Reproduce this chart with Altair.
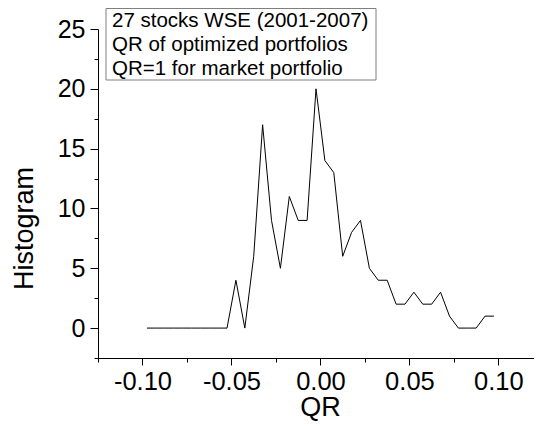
import altair as alt
import pandas as pd

# Histogram of QR values (bin centres) and counts
qr_bins = [-0.0975, -0.0925, -0.0875, -0.0825, -0.0775, -0.0725, -0.0675, -0.0625,
           -0.0575, -0.0525, -0.0475, -0.0425, -0.0375, -0.0325, -0.0275, -0.0225,
           -0.0175, -0.0125, -0.0075, -0.0025, 0.0025, 0.0075, 0.0125, 0.0175,
           0.0225, 0.0275, 0.0325, 0.0375, 0.0425, 0.0475, 0.0525, 0.0575,
           0.0625, 0.0675, 0.0725, 0.0775, 0.0825, 0.0875, 0.0925, 0.0975]
counts = [0, 0, 0, 0, 0, 0, 0, 0,
          0, 0, 4, 0, 6, 17, 9, 5,
          11, 9, 9, 20, 14, 13, 6, 8,
          9, 5, 4, 4, 2, 2, 3, 2,
          2, 3, 1, 0, 0, 0, 1, 1]

x_major = [-0.10, -0.05, 0.0, 0.05, 0.10]
x_minor = [-0.125, -0.075, -0.025, 0.025, 0.075]
y_major = [0, 5, 10, 15, 20, 25]
y_minor = [-2.5, 2.5, 7.5, 12.5, 17.5, 22.5]

legend_lines = ["27 stocks WSE (2001-2007)",
                "QR of optimized portfolios",
                "QR=1 for market portfolio"]

df = pd.DataFrame({"QR": qr_bins, "Histogram": counts})
leg = pd.DataFrame({"t": ["\n".join(legend_lines)]})

FONT = "Liberation Sans"
xscale = alt.Scale(domain=[-0.125, 0.12], nice=False, zero=False)
yscale = alt.Scale(domain=[-2.5, 25], nice=False, zero=False)

lab_expr = "datum.value < 0 ? '-' + format(-datum.value, '.2f') : format(datum.value, '.2f')"

line = alt.Chart(df).mark_line(color="#000000", strokeWidth=1).encode(
    x=alt.X("QR:Q", scale=xscale,
            axis=alt.Axis(values=x_major, labelExpr=lab_expr, orient="bottom",
                          tickSize=7, labelPadding=4, labelFontSize=25.5,
                          labelFont=FONT, title="QR", titleFontSize=27,
                          titleFont=FONT, titleFontWeight="normal",
                          titlePadding=0, titleX=222, grid=False,
                          domainColor="#000000", tickColor="#000000",
                          labelColor="#000000", titleColor="#000000")),
    y=alt.Y("Histogram:Q", scale=yscale,
            axis=alt.Axis(values=y_major, orient="left", tickSize=8,
                          labelPadding=5, labelFontSize=25, labelFont=FONT,
                          title="Histogram", titleFontSize=27, titleFont=FONT,
                          titleFontWeight="normal", titlePadding=19, titleY=199,
                          grid=False, domainColor="#000000", tickColor="#000000",
                          labelColor="#000000", titleColor="#000000")),
)

minor = alt.Chart(df).mark_point(opacity=0).encode(
    x=alt.X("QR:Q", scale=xscale,
            axis=alt.Axis(values=x_minor, orient="bottom", tickSize=4,
                          labels=False, domain=False, title=None, grid=False,
                          tickColor="#000000")),
    y=alt.Y("Histogram:Q", scale=yscale,
            axis=alt.Axis(values=y_minor, orient="left", tickSize=4,
                          labels=False, domain=False, title=None, grid=False,
                          tickColor="#000000")),
)

box = alt.Chart(leg).mark_rect(fill="white", stroke="#7f7f7f", strokeWidth=1).encode(
    x=alt.value(8), x2=alt.value(278), y=alt.value(-20.5), y2=alt.value(51)
)

text = alt.Chart(leg).mark_text(
    align="left", baseline="alphabetic", fontSize=20.5, font=FONT, color="#000000",
    lineBreak="\n", lineHeight=24
).encode(
    x=alt.value(14),
    y=alt.value(-2),
    text="t:N",
)

chart = alt.layer(line, minor, box, text).resolve_axis(
    x="independent", y="independent"
).properties(
    width=436, height=329,
    autosize=alt.AutoSizeParams(type="none"),
    padding={"left": 90, "top": 21, "right": 0, "bottom": 64},
).configure_view(stroke=None).configure_axis(domainWidth=1, tickWidth=1)

chart.save("out.html", embed_options={"renderer": "svg", "actions": False})
